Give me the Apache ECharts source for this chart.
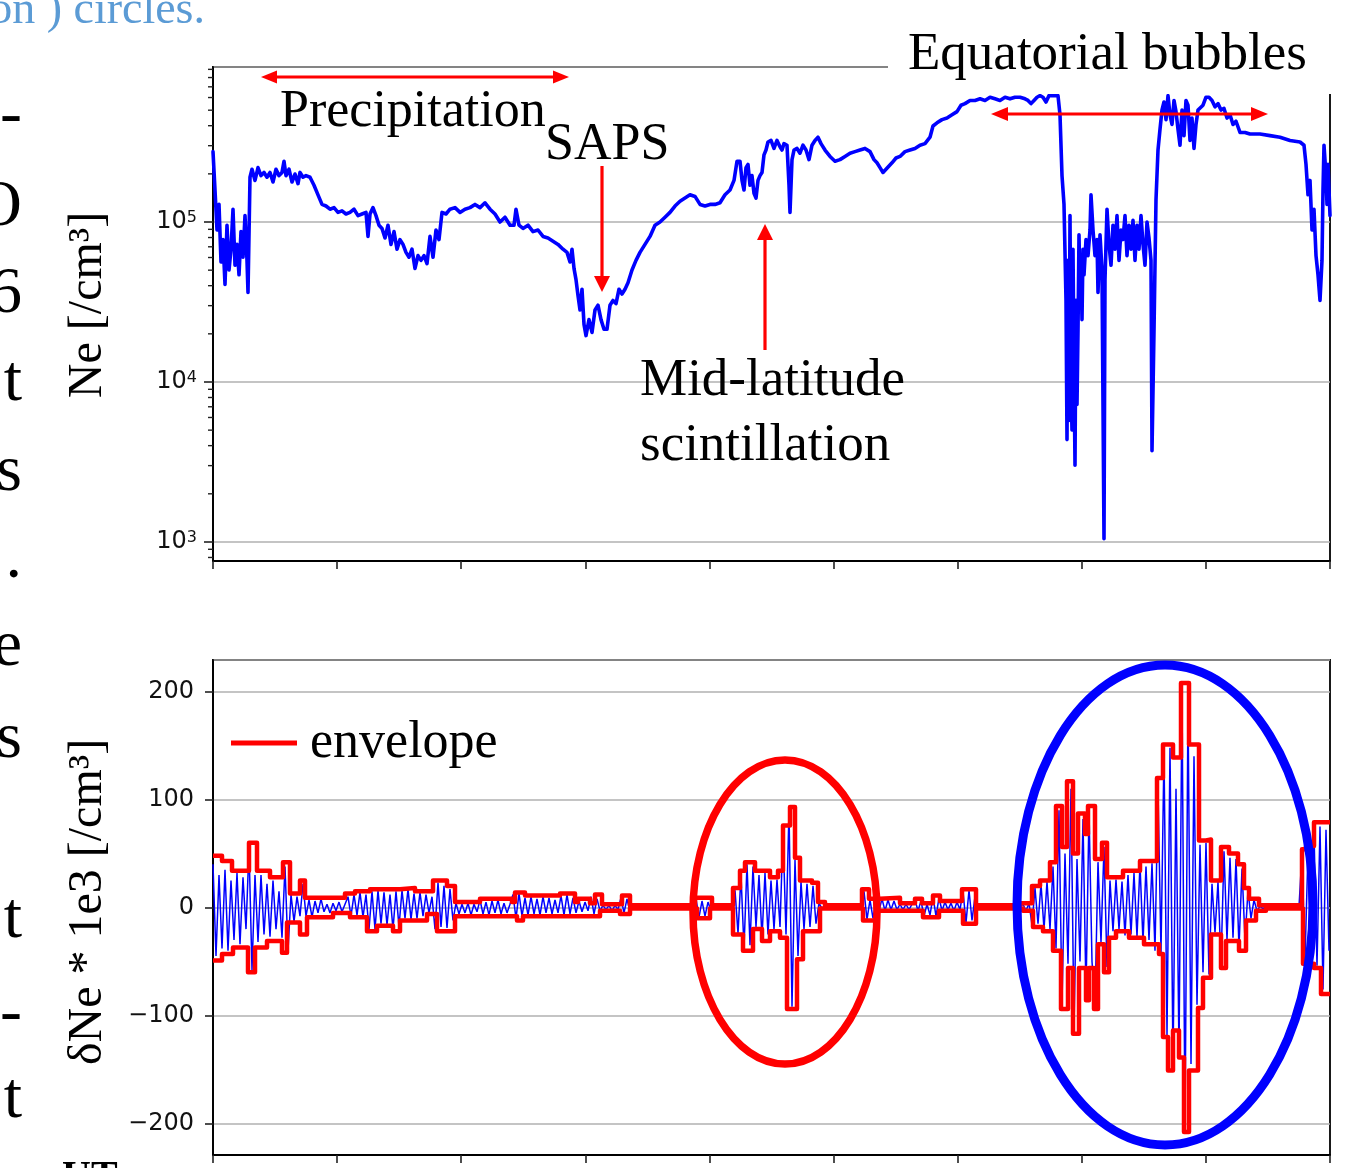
<!DOCTYPE html>
<html>
<head>
<meta charset="utf-8">
<title>Ne and dNe</title>
<script src="https://cdn.jsdelivr.net/npm/echarts@6.0.0/dist/echarts.min.js"></script>
<style>
  html, body { margin: 0; padding: 0; background: #fff; }
  #chart { width: 1346px; height: 1168px; }
</style>
</head>
<body>
<div id="chart"></div>
<script>
// time runs in samples across the panel, 9 tick intervals
const timeSpan = 1117;
const timeTicks = 9;

// Ne, stored as log10(Ne [/cm3]) : [time, log10 Ne]
const neLog10 = [
  [0,5.44],[2,5.20],[4,4.95],[6,5.11],[8,4.75],[10,4.89],[12,4.61],[14,4.98],[16,4.70],[18,4.83],
  [20,5.08],[22,4.73],[24,4.86],[26,4.67],[28,4.94],[30,4.78],[32,5.04],[34,4.76],[35,4.56],[37,5.28],
  [39,5.33],[42,5.26],[45,5.34],[48,5.29],[51,5.31],[54,5.28],[57,5.31],[60,5.25],[63,5.33],[66,5.29],
  [69,5.31],[71,5.38],[73,5.29],[76,5.33],[79,5.25],[82,5.30],[85,5.24],[87,5.31],[90,5.28],[93,5.29],
  [97,5.28],[101,5.23],[105,5.17],[109,5.11],[113,5.10],[117,5.08],[121,5.09],[125,5.06],[129,5.07],[133,5.05],
  [137,5.06],[141,5.08],[145,5.04],[149,5.05],[153,5.06],[155,4.91],[157,5.05],[160,5.09],[163,5.04],[166,4.98],
  [169,4.96],[172,4.90],[175,4.98],[178,4.86],[181,4.94],[184,4.83],[187,4.89],[190,4.86],[193,4.81],[196,4.78],
  [199,4.83],[202,4.71],[205,4.79],[208,4.76],[211,4.79],[214,4.74],[217,4.91],[220,4.78],[223,4.95],[226,4.89],
  [229,5.06],[233,5.05],[237,5.08],[242,5.09],[247,5.06],[252,5.08],[257,5.09],[262,5.11],[267,5.09],[272,5.12],
  [277,5.08],[282,5.05],[287,5.00],[292,5.03],[297,4.98],[301,4.98],[303,5.08],[306,4.98],[310,4.96],[315,4.98],
  [320,4.94],[325,4.95],[330,4.91],[335,4.90],[340,4.88],[345,4.86],[350,4.83],[354,4.81],[357,4.75],[359,4.83],
  [361,4.71],[363,4.64],[365,4.54],[367,4.45],[369,4.58],[371,4.36],[373,4.29],[376,4.39],[379,4.31],[382,4.45],
  [385,4.48],[388,4.39],[391,4.33],[394,4.33],[397,4.48],[400,4.51],[403,4.49],[406,4.58],[409,4.55],[412,4.58],
  [415,4.62],[419,4.70],[423,4.76],[427,4.81],[432,4.86],[437,4.91],[442,4.98],[447,5.00],[452,5.03],[457,5.06],
  [462,5.10],[467,5.13],[472,5.15],[477,5.17],[482,5.16],[487,5.11],[492,5.10],[497,5.11],[502,5.11],[507,5.12],
  [512,5.17],[517,5.20],[521,5.26],[524,5.38],[527,5.38],[529,5.26],[531,5.20],[533,5.34],[535,5.36],[537,5.23],
  [539,5.29],[541,5.18],[543,5.15],[545,5.26],[547,5.29],[549,5.31],[551,5.42],[553,5.45],[555,5.50],[558,5.51],
  [561,5.46],[564,5.51],[567,5.47],[569,5.45],[571,5.49],[574,5.48],[576,5.23],[577,5.06],[579,5.39],[581,5.45],
  [584,5.46],[587,5.43],[590,5.48],[593,5.45],[596,5.39],[599,5.48],[602,5.51],[605,5.53],[608,5.49],[612,5.45],
  [617,5.41],[622,5.38],[627,5.39],[632,5.41],[637,5.43],[642,5.44],[647,5.45],[652,5.46],[657,5.44],[661,5.39],
  [664,5.37],[667,5.34],[670,5.31],[673,5.33],[676,5.35],[679,5.37],[683,5.40],[687,5.41],[692,5.44],[697,5.45],
  [702,5.46],[707,5.48],[712,5.49],[717,5.53],[720,5.60],[724,5.62],[729,5.64],[734,5.65],[739,5.67],[744,5.69],
  [748,5.73],[752,5.74],[757,5.76],[762,5.76],[767,5.77],[772,5.76],[777,5.78],[782,5.77],[787,5.76],[792,5.78],
  [797,5.77],[802,5.78],[807,5.78],[812,5.77],[815,5.76],[818,5.74],[821,5.76],[824,5.78],[827,5.79],[830,5.78],
  [833,5.75],[836,5.79],[839,5.79],[842,5.79],[845,5.79],[847,5.67],[849,5.29],[851,5.11],[853,4.51],[854,3.64],
  [855,4.76],[856,3.76],[857,5.04],[858,3.98],[859,3.70],[860,4.83],[861,4.11],[862,3.48],[863,4.51],[864,3.86],
  [865,4.32],[866,4.92],[867,4.58],[868,4.76],[869,4.39],[870,4.83],[871,4.67],[873,4.89],[875,4.79],[877,4.95],
  [878,5.17],[880,4.95],[882,4.79],[884,4.89],[885,4.56],[887,4.92],[889,4.70],[891,3.02],[892,4.64],[894,5.08],
  [896,4.86],[898,4.73],[900,4.98],[902,4.83],[904,5.04],[906,4.76],[908,4.95],[910,4.89],[912,5.04],[914,4.79],
  [916,4.98],[918,4.83],[920,5.01],[922,4.76],[924,4.98],[926,4.83],[928,5.04],[930,4.86],[932,4.73],[934,5.00],
  [936,4.90],[938,4.76],[939,3.57],[941,4.32],[943,5.14],[945,5.45],[947,5.58],[949,5.70],[951,5.75],[953,5.64],
  [955,5.79],[957,5.67],[959,5.61],[961,5.76],[963,5.69],[965,5.58],[967,5.48],[969,5.70],[971,5.54],[973,5.76],
  [975,5.73],[977,5.51],[979,5.65],[981,5.46],[983,5.61],[985,5.70],[987,5.69],[990,5.73],[993,5.78],[996,5.78],
  [999,5.76],[1002,5.72],[1005,5.74],[1008,5.70],[1011,5.71],[1014,5.65],[1017,5.67],[1020,5.61],[1023,5.63],[1027,5.56],
  [1032,5.56],[1037,5.55],[1047,5.55],[1057,5.54],[1067,5.53],[1077,5.51],[1087,5.50],[1091,5.48],[1093,5.36],[1095,5.17],
  [1097,5.26],[1099,4.95],[1101,5.08],[1103,4.79],[1105,4.67],[1107,4.51],[1109,4.76],[1110,5.20],[1111,5.48],[1113,5.29],
  [1114,5.11],[1115,5.36],[1117,5.04]
];

// dNe * 1e3 [/cm3], one value every dneStep samples
const dneStep = 3;
const dneValues = [
  40,-45,30,-38, 35,-40,25, -30,32,-34,28,-20, 55,-58,30, -32,30,-25,22, -27,25,-20,15,-28, 38,-40, 12,-13,10,-8, 22,
  -8,7,-9,6,-5,8,-4,3,-5,4,-3,5,-4,3, 10,-8,12, -7,14,-9,12,-20, 15,-20,16, -15,14,-16,12,-20,15,-18, 16,-10,17,-11,13,
  -10,14,-8,12,-5,10, -20,23,-18,20, -19,17,-12, 4,-6,3,-5,4,-7,3,-4, 7,-6,5,-7,6,-5,7,-6,4,-5,3, 12,-10,13,-8,
  9,-7,10,-6,8,-7,10,-5,9,-6,7,-5, 11,-7,12,-6,9, -5,6,-4,5,-3, 10,-6,8,-3, 2,-2,2,-3,2,-2, 9,-5,8,-4,
  1,-1,1,-1,0,1,-1,1,-1,0,1,-1,1,-1,0,1,-1,1,-1,1,0,
  8,-9,6,-8,5,-3, 1,-1,1,-1,1,-1,1, 16,-24,30, -38,40,-35,38, -18,30,-28,32,-25, 25,-20,26,-18, 70,-25, 90,-92,44, -45,24, -20,22,-18,20,-15,
  4,-1,2,-1,1,-1,1,-1,1,-1,1,-1,1,-1,1,
  15,-11,7,-10,6, -3,8,-3,7,-2,6,-2, 3,-2,3,-2,3, 7,-3,6, -8,3,-7, 10,-8,9, -3,5,-2,4,-3,5,-2, 15,-14,16,-12,10,
  -1,1,-1,1,0,1,-1,1,-1,1,0,-1,1,-1,1,
  3,-3,4, -16,18,-15, 22,-20,24, -20,38, -38,90, -90,50, -52,110, -112,45,-50,82, -80, 90,-50, -90, 42, -32,56,-55,
  25,-22,26,-20,24, -26,30,-25,32,-27, 40,-32,38,-30,41,
  -40,110,-42,145,-118,148,-145,110,-135,200,-205,190,-145,140,-90,58,-60,60,-62,22,-23,24,-52,52,-30,46,-28,45,-37,36,-30,16,-10,7,-3,
  1,-1,1,-1,1,-1,0,1,-1,1,-1,1,-1,1,
  50,-48,52,-50,70,-54,75,-76,72,-40
];

// envelope, stepped: [time where the level starts, level]
const envUpper = [
  [0,48],[9,43],[19,34],[36,60],[44,34],[57,28],[70,42],[77,13],[87,25],[92,9],[132,13],[142,15],[157,17],
  [187,18],[202,15],[220,25],[234,20],[242,5],[267,8],[299,5],[302,14],[312,11],[347,13],[362,5],[365,8],
  [377,4],[382,12],[389,3],[409,11],[417,2],[482,9],[499,2],[520,18],[527,34],[532,42],[542,34],[557,28],
  [565,34],[570,76],[577,93],[582,46],[587,25],[599,23],[605,5],[612,2],[649,17],[656,8],[667,9],[687,4],
  [702,8],[709,4],[720,11],[727,6],[749,17],[763,2],[807,4],[819,20],[827,25],[837,42],[843,94],[849,56],
  [854,117],[860,50],[865,87],[872,68],[875,94],[882,45],[889,60],[894,28],[910,34],[927,43],[944,120],
  [950,151],[960,139],[968,208],[976,151],[986,62],[993,63],[998,25],[1008,56],[1016,50],[1025,40],[1031,18],
  [1036,8],[1046,2],[1089,54],[1093,57],[1101,79],[1117,79]
];
const envLower = [
  [0,-49],[9,-43],[20,-37],[35,-60],[42,-37],[54,-31],[69,-42],[74,-14],[87,-25],[94,-9],[120,-5],[137,-9],
  [154,-22],[164,-17],[180,-22],[187,-12],[214,-6],[224,-22],[242,-8],[304,-12],[310,-8],[387,-3],[407,-6],
  [417,-1],[484,-10],[497,-1],[520,-25],[530,-40],[540,-20],[549,-31],[557,-22],[567,-28],[574,-94],[584,-48],
  [590,-22],[607,-1],[650,-12],[664,-3],[710,-9],[726,-3],[750,-15],[763,-1],[810,-3],[820,-18],[830,-22],
  [840,-40],[848,-94],[855,-56],[860,-117],[866,-56],[873,-86],[876,-56],[881,-94],[885,-34],[891,-60],[896,-28],
  [903,-22],[916,-28],[931,-34],[946,-43],[950,-120],[955,-151],[960,-114],[966,-139],[971,-208],[976,-151],
  [985,-93],[990,-65],[998,-25],[1008,-56],[1013,-31],[1026,-40],[1033,-12],[1043,-3],[1053,-1],[1090,-52],
  [1101,-56],[1108,-80],[1117,-80]
];

// log axis minor ticks (2..9 in every decade)
const neMinorTicks = [];
for (let n = 2; n <= 5; n++) {
  for (let k = 2; k <= 9; k++) {
    const v = n + Math.log10(k);
    if (v > 2.881 && v < 5.969) neMinorTicks.push([0, v]);
  }
}

const blue = '#0000ff';
const red = '#ff0000';
const gridColor = '#b0b0b0';
const tickFont = 'DejaVu Sans';
const serif = '"Liberation Serif", "Times New Roman", serif';

function timeAxis(gridIndex) {
  return {
    type: 'value',
    gridIndex: gridIndex,
    min: 0,
    max: timeSpan,
    interval: timeSpan / timeTicks,
    axisLine: { show: true, onZero: false, lineStyle: { color: '#000', width: 1.8 } },
    axisTick: { show: true, inside: false, length: 8, lineStyle: { color: '#222', width: 1.6 } },
    axisLabel: { show: false },
    splitLine: { show: false }
  };
}

function label(text, x, y, size, opts) {
  return Object.assign({
    type: 'text', x: x, y: y, z: 120,
    style: { text: text, font: size + 'px ' + serif, fill: '#000', align: 'left', verticalAlign: 'middle' }
  }, opts || {});
}

// cropped words of the surrounding page text
const sideLetters = [['-', 117], ['O', 208], ['6', 295], ['t', 383], ['s', 473], ['.', 560], ['e', 648],
  ['s', 740], ['t', 920], ['-', 1015], ['t', 1100]];

const option = {
  animation: false,
  backgroundColor: '#fff',
  grid: [
    { left: 213, top: 67, width: 1117, height: 494, show: true, borderColor: '#000', borderWidth: 1.8, backgroundColor: 'transparent' },
    { left: 213, top: 660, width: 1117, height: 495, show: true, borderColor: '#000', borderWidth: 1.8, backgroundColor: 'transparent' }
  ],
  legend: {
    left: 226, top: 712,
    itemWidth: 66, itemHeight: 5,
    data: [{ name: 'envelope', icon: 'rect' }],
    textStyle: { fontFamily: serif, fontSize: 52, color: '#000', padding: [0, 0, 0, 8] }
  },
  xAxis: [timeAxis(0), timeAxis(1)],
  yAxis: [
    {
      type: 'value', gridIndex: 0, min: 2.881, max: 5.969, splitNumber: 3,
      axisLine: { show: true, lineStyle: { color: '#000', width: 1.8 } },
      axisTick: { show: true, length: 9, lineStyle: { color: '#222', width: 1.6 } },
      axisLabel: {
        margin: 16, showMinLabel: false, showMaxLabel: false,
        formatter: function (v) {
          const n = Math.round(v);
          if (Math.abs(v - n) > 1e-6) return '';
          return '{b|10}{s|' + n + '}';
        },
        rich: {
          b: { fontFamily: tickFont, fontSize: 24, color: '#111', lineHeight: 25 },
          s: { fontFamily: tickFont, fontSize: 16, color: '#111', verticalAlign: 'top', lineHeight: 16 }
        }
      },
      splitLine: { show: true, lineStyle: { color: gridColor, width: 1.6 } }
    },
    {
      type: 'value', gridIndex: 1, min: -229.2, max: 229.2, splitNumber: 4,
      axisLine: { show: true, onZero: false, lineStyle: { color: '#000', width: 1.8 } },
      axisTick: { show: true, length: 8, lineStyle: { color: '#222', width: 1.6 } },
      axisLabel: {
        margin: 19, showMinLabel: false, showMaxLabel: false,
        fontFamily: tickFont, fontSize: 24, color: '#111',
        formatter: function (v) {
          if (Math.abs(v / 100 - Math.round(v / 100)) > 1e-6) return '';
          return v < 0 ? '\u2212' + (-v) : String(v);
        }
      },
      splitLine: { show: true, lineStyle: { color: gridColor, width: 1.6 } }
    }
  ],
  series: [
    {
      name: 'Ne', type: 'line', xAxisIndex: 0, yAxisIndex: 0,
      data: neLog10, symbol: 'none', z: 3,
      lineStyle: { color: blue, width: 3.6, join: 'round', cap: 'round' }
    },
    {
      name: 'minor', type: 'custom', xAxisIndex: 0, yAxisIndex: 0, clip: false, silent: true,
      data: neMinorTicks,
      renderItem: function (params, api) {
        const p = api.coord([0, api.value(1)]);
        return {
          type: 'line',
          shape: { x1: p[0] - 5, y1: p[1], x2: p[0], y2: p[1] },
          style: { stroke: '#222', lineWidth: 1.4 }
        };
      }
    },
    {
      name: 'dNe', type: 'line', xAxisIndex: 1, yAxisIndex: 1,
      data: dneValues.map(function (v, i) { return [i * dneStep, v]; }),
      symbol: 'none', z: 3,
      lineStyle: { color: blue, width: 1.5 }
    },
    {
      name: 'envelope', type: 'line', xAxisIndex: 1, yAxisIndex: 1, step: 'end',
      data: envUpper, symbol: 'none', z: 4,
      itemStyle: { color: red },
      lineStyle: { color: red, width: 4.5, join: 'round' }
    },
    {
      name: 'envelope', type: 'line', xAxisIndex: 1, yAxisIndex: 1, step: 'end',
      data: envLower, symbol: 'none', z: 4,
      itemStyle: { color: red },
      lineStyle: { color: red, width: 4.5, join: 'round' }
    }
  ],
  graphic: [].concat(
    [
      // white patch of the page that hides the top right of the frame
      { type: 'rect', z: 100, shape: { x: 888, y: 0, width: 458, height: 94 }, style: { fill: '#fff' } },
      label('ion ) circles.', 205, 11, 46, { style: { text: 'ion ) circles.', font: '46px ' + serif, fill: '#5b9bd5', align: 'right', verticalAlign: 'middle' } }),
      label('Precipitation', 280, 112, 52),
      label('SAPS', 545, 145, 52),
      label('Mid-latitude', 640, 381, 53),
      label('scintillation', 640, 446, 53),
      label('Equatorial bubbles', 908, 55, 53),
      label('UT', 62, 1158, 40, { style: { text: 'UT', font: 'bold 40px ' + serif, fill: '#000', align: 'left', verticalAlign: 'top' } }),
      label('Ne [/cm\u00b3]', 88, 305, 48, { rotation: Math.PI / 2, style: { text: 'Ne [/cm\u00b3]', font: '48px ' + serif, fill: '#000', align: 'center', verticalAlign: 'middle' } }),
      label('\u03b4Ne * 1e3 [/cm\u00b3]', 88, 902, 48, { rotation: Math.PI / 2, style: { text: '\u03b4Ne * 1e3 [/cm\u00b3]', font: '48px ' + serif, fill: '#000', align: 'center', verticalAlign: 'middle' } }),
      // arrows
      { type: 'line', z: 110, shape: { x1: 275, y1: 77, x2: 555, y2: 77 }, style: { stroke: red, lineWidth: 2.8 } },
      { type: 'polygon', z: 110, shape: { points: [[261, 77], [277, 70.5], [277, 83.5]] }, style: { fill: red } },
      { type: 'polygon', z: 110, shape: { points: [[569, 77], [553, 70.5], [553, 83.5]] }, style: { fill: red } },
      { type: 'line', z: 110, shape: { x1: 602, y1: 166, x2: 602, y2: 278 }, style: { stroke: red, lineWidth: 3.2 } },
      { type: 'polygon', z: 110, shape: { points: [[602, 292], [594, 276], [610, 276]] }, style: { fill: red } },
      { type: 'line', z: 110, shape: { x1: 765, y1: 350, x2: 765, y2: 238 }, style: { stroke: red, lineWidth: 3.2 } },
      { type: 'polygon', z: 110, shape: { points: [[765, 224], [757, 240], [773, 240]] }, style: { fill: red } },
      { type: 'line', z: 110, shape: { x1: 1005, y1: 114, x2: 1254, y2: 114 }, style: { stroke: red, lineWidth: 2.8 } },
      { type: 'polygon', z: 110, shape: { points: [[991, 114], [1008, 107], [1008, 121]] }, style: { fill: red } },
      { type: 'polygon', z: 110, shape: { points: [[1268, 114], [1251, 107], [1251, 121]] }, style: { fill: red } },
      // circled regions
      { type: 'ellipse', z: 110, shape: { cx: 785, cy: 912, rx: 92, ry: 152 }, style: { fill: 'transparent', stroke: red, lineWidth: 7.5 } },
      { type: 'ellipse', z: 110, shape: { cx: 1165, cy: 905, rx: 148, ry: 240 }, style: { fill: 'transparent', stroke: blue, lineWidth: 9 } }
    ],
    sideLetters.map(function (d) {
      return { type: 'text', x: 22, y: d[1], z: 120,
        style: { text: d[0], font: '66px ' + serif, fill: '#000', align: 'right', verticalAlign: 'middle' } };
    })
  )
};

const chart = echarts.init(document.getElementById('chart'), null, { renderer: 'canvas' });
chart.setOption(option);
window.addEventListener('resize', function () { chart.resize(); });
</script>
</body>
</html>
